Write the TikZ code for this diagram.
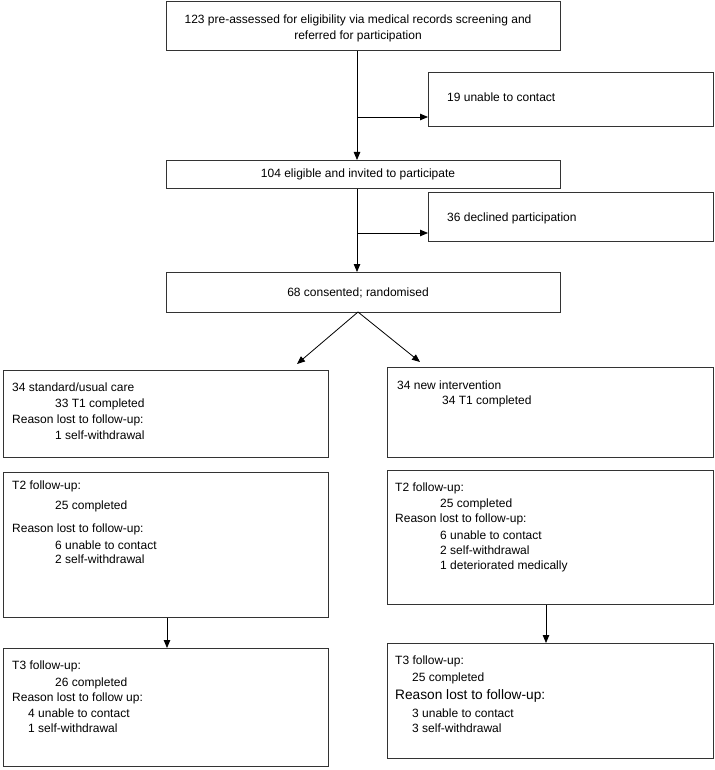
\documentclass[tikz,border=0pt]{standalone}
\usepackage{fontspec}
\setmainfont{Liberation Sans}
\usetikzlibrary{arrows.meta}
\begin{document}
\begin{tikzpicture}[x=1pt,y=-1pt,
  box/.style={draw=black!80,line width=0.9pt,rectangle,inner sep=0pt,anchor=north west},
  txt/.style={anchor=base west,inner sep=0pt,font=\fontsize{12}{14}\selectfont},
  ctxt/.style={anchor=base,inner sep=0pt,font=\fontsize{12}{14}\selectfont},
  bigtxt/.style={anchor=base west,inner sep=0pt,font=\fontsize{13.7}{15}\selectfont},
  arr/.style={line width=0.8pt,-{Triangle[length=8pt,width=6.5pt]}},
  ln/.style={line width=0.8pt}]
\useasboundingbox (0,0) rectangle (714,770);
% boxes
\node[box,minimum width=394pt,minimum height=49pt] (b1) at (166,1) {};
\node[box,minimum width=285pt,minimum height=54pt] (b19) at (428,72) {};
\node[box,minimum width=394pt,minimum height=28pt] (b2) at (166,160) {};
\node[box,minimum width=285pt,minimum height=49pt] (b36) at (428,192) {};
\node[box,minimum width=394pt,minimum height=40pt] (b68) at (166,272) {};
\node[box,minimum width=325pt,minimum height=87pt] (ba) at (3,370) {};
\node[box,minimum width=326pt,minimum height=90pt] (bb) at (387,367) {};
\node[box,minimum width=325pt,minimum height=145pt] (t2l) at (3,472) {};
\node[box,minimum width=326pt,minimum height=134pt] (t2r) at (387,470) {};
\node[box,minimum width=325pt,minimum height=118pt] (t3l) at (3,648) {};
\node[box,minimum width=326pt,minimum height=115pt] (t3r) at (387,643) {};
% texts
\node[ctxt] (b1t1) at (358,24) {123 pre-assessed for eligibility via medical records screening and};
\node[ctxt] (b1t2) at (358,40) {referred for participation};
\node[txt] (b19t) at (447,102) {19 unable to contact};
\node[ctxt] (b2t) at (358,178) {104 eligible and invited to participate};
\node[txt] (b36t) at (447,221) {36 declined participation};
\node[ctxt] (b68t) at (358,296) {68 consented; randomised};
\node[txt] (a1) at (12,391) {34 standard/usual care};
\node[txt] (a2) at (55,407) {33 T1 completed};
\node[txt] (a3) at (12,423) {Reason lost to follow-up:};
\node[txt] (a4) at (55,439) {1 self-withdrawal};
\node[txt] (bt1) at (397,389) {34 new intervention};
\node[txt] (bt2) at (442,404) {34 T1 completed};
\node[txt] (l21) at (12,489) {T2 follow-up:};
\node[txt] (l22) at (55,509) {25 completed};
\node[txt] (l23) at (12,532) {Reason lost to follow-up:};
\node[txt] (l24) at (55,549) {6 unable to contact};
\node[txt] (l25) at (55,563) {2 self-withdrawal};
\node[txt] (r21) at (395,491) {T2 follow-up:};
\node[txt] (r22) at (440,507) {25 completed};
\node[txt] (r23) at (395,522) {Reason lost to follow-up:};
\node[txt] (r24) at (440,539) {6 unable to contact};
\node[txt] (r25) at (440,554) {2 self-withdrawal};
\node[txt] (r26) at (440,569) {1 deteriorated medically};
\node[txt] (l31) at (12,669) {T3 follow-up:};
\node[txt] (l32) at (55,686) {26 completed};
\node[txt] (l33) at (12,701) {Reason lost to follow up:};
\node[txt] (l34) at (28,717) {4 unable to contact};
\node[txt] (l35) at (28,732) {1 self-withdrawal};
\node[txt] (r31) at (395,664) {T3 follow-up:};
\node[txt] (r32) at (412,681) {25 completed};
\node[bigtxt] (r33) at (395,699) {Reason lost to follow-up:};
\node[txt] (r34) at (412,717) {3 unable to contact};
\node[txt] (r35) at (412,732) {3 self-withdrawal};
% connectors
\coordinate (xl) at (357,0);
\coordinate (j1) at (357,117);
\coordinate (j2) at (357,233);
\coordinate (apex) at (358,312);
\coordinate (tipL) at (297,364);
\coordinate (tipR) at (420,362);
\draw[arr] (b1.south -| xl) -- (b2.north -| xl);
\draw[arr] (j1) -- (j1 -| b19.west);
\draw[arr] (b2.south -| xl) -- (b68.north -| xl);
\draw[arr] (j2) -- (j2 -| b36.west);
\draw[arr] (apex) -- (tipL);
\draw[arr] (apex) -- (tipR);
\coordinate (xL) at (167,0);
\coordinate (xR) at (546,0);
\draw[arr] (t2l.south -| xL) -- (t3l.north -| xL);
\draw[arr] (t2r.south -| xR) -- (t3r.north -| xR);
\end{tikzpicture}
\end{document}
